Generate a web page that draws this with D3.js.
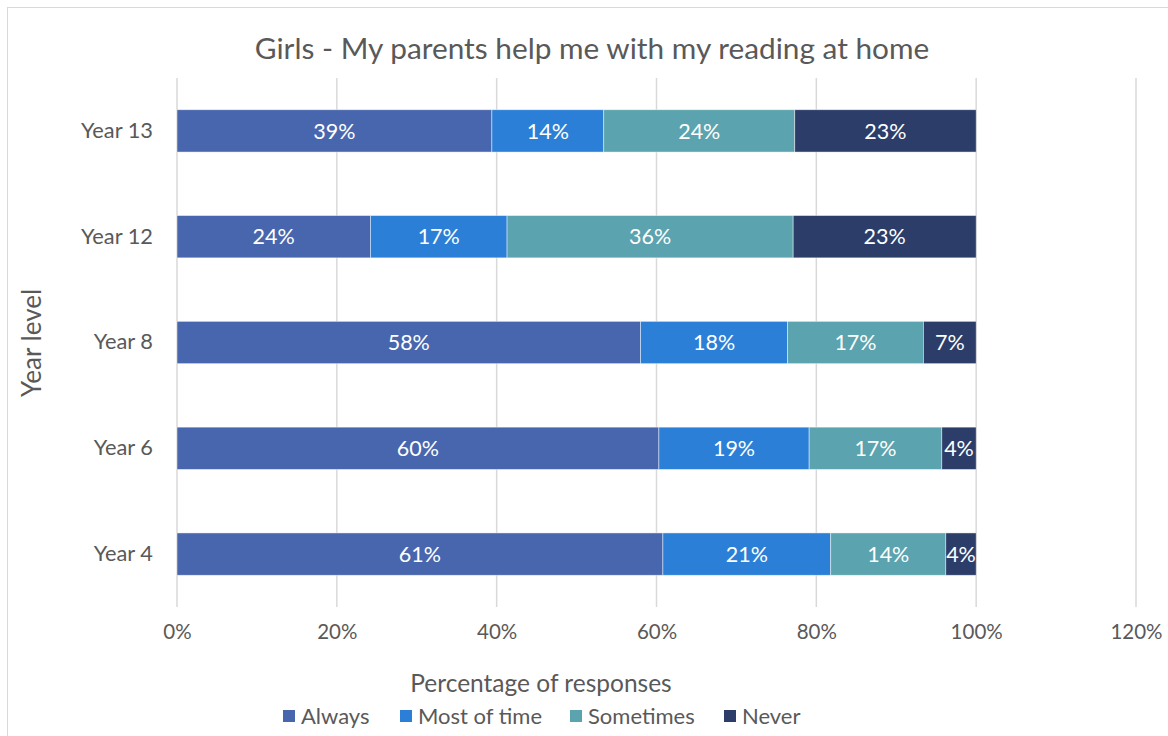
<!DOCTYPE html>
<html>
<head>
<meta charset="utf-8">
<script src="https://cdn.jsdelivr.net/npm/d3@7"></script>
<style>
  body { margin: 0; background: #fff; }
  text { font-family: Lato, "Noto Sans", sans-serif; }
</style>
</head>
<body>
<script>
// data (percent of responses)
const years = ["Year 13", "Year 12", "Year 8", "Year 6", "Year 4"];
const seriesNames = ["Always", "Most of time", "Sometimes", "Never"];
const always = [39.4, 24.2, 58.0, 60.3, 60.8];
const mostOfTime = [14.0, 17.1, 18.4, 18.8, 21.0];
const sometimes = [23.9, 35.8, 17.0, 16.6, 14.4];
const never = [22.7, 22.9, 6.6, 4.3, 3.8];
const xTicks = [0, 20, 40, 60, 80, 100, 120];

const colors = ["#4866AE", "#2B7FD6", "#5BA3AE", "#2C3D69"];

const width = 1168;
const height = 736;

const svg = d3.select("body")
    .append("svg")
    .attr("width", width)
    .attr("height", height)

// chart frame
svg.append("rect")
    .attr("x", 7.5)
    .attr("y", 7.5)
    .attr("width", width)
    .attr("height", height)
    .attr("fill", "none")
    .attr("stroke", "#d9d9d9")

const scaleX = d3.scaleLinear()
    .domain([0, 120])
    .range([177, 1136]);

const scaleY = d3.scaleBand()
    .domain(years)
    .range([78, 607])
    .paddingInner(0.6)
    .paddingOuter(0.3);

// gridlines
svg.append("g")
    .selectAll("line")
    .data(xTicks)
    .enter()
    .append("line")
    .attr("x1", d => scaleX(d))
    .attr("x2", d => scaleX(d))
    .attr("y1", 78)
    .attr("y2", 607)
    .attr("stroke", "#d9d9d9")
    .attr("stroke-width", 1.5)

// x axis labels
const xAxis = d3.axisBottom(scaleX)
    .tickValues(xTicks)
    .tickSize(0)
    .tickPadding(0)
    .tickFormat(d => d + "%");

svg.append("g")
    .attr("transform", "translate(0, 624)")
    .call(xAxis)
    .call(g => g.select(".domain").remove())
    .selectAll("text")
    .attr("dy", "0.71em")
    .attr("fill", "#595959")
    .style("font-size", "20.5px")
    .style("font-family", "Lato, sans-serif")

// y axis labels
const yAxis = d3.axisLeft(scaleY)
    .tickSize(0)
    .tickPadding(0);

svg.append("g")
    .attr("transform", "translate(153, 0)")
    .call(yAxis)
    .call(g => g.select(".domain").remove())
    .selectAll("text")
    .attr("fill", "#595959")
    .style("font-size", "21.8px")
    .style("font-family", "Lato, sans-serif")

// stack the series
const table = years.map((y, i) => ({
    year: y,
    "Always": always[i],
    "Most of time": mostOfTime[i],
    "Sometimes": sometimes[i],
    "Never": never[i]
}));

const stacked = d3.stack().keys(seriesNames)(table);

const layers = svg.append("g")
    .selectAll("g")
    .data(stacked)
    .enter()
    .append("g")
    .attr("fill", (d, i) => colors[i])

layers.selectAll("rect")
    .data(d => d)
    .enter()
    .append("rect")
    .attr("x", d => scaleX(d[0]))
    .attr("y", d => scaleY(d.data.year))
    .attr("width", d => scaleX(d[1]) - scaleX(d[0]))
    .attr("height", scaleY.bandwidth())
    .attr("stroke", "rgba(255,255,255,0.6)")
    .attr("stroke-width", 0.75)

layers.selectAll("text")
    .data(d => d)
    .enter()
    .append("text")
    .attr("x", d => (scaleX(d[0]) + scaleX(d[1])) / 2)
    .attr("y", d => scaleY(d.data.year) + scaleY.bandwidth() / 2)
    .attr("dy", "0.36em")
    .attr("text-anchor", "middle")
    .attr("fill", "#fff")
    .style("font-size", "21.5px")
    .text(d => Math.round(d[1] - d[0]) + "%")

// title
svg.append("text")
    .attr("x", 592)
    .attr("y", 59)
    .attr("text-anchor", "middle")
    .attr("fill", "#595959")
    .style("font-size", "29.8px")
    .text("Girls - My parents help me with my reading at home")

// axis titles
svg.append("text")
    .attr("x", 541)
    .attr("y", 692)
    .attr("text-anchor", "middle")
    .attr("fill", "#595959")
    .style("font-size", "24.5px")
    .text("Percentage of responses")

svg.append("text")
    .attr("transform", "translate(41, 343) rotate(-90)")
    .attr("text-anchor", "middle")
    .attr("fill", "#595959")
    .style("font-size", "26px")
    .text("Year level")

// legend
const legendX = [283, 400, 570, 724];

const legend = svg.append("g")
    .selectAll("g")
    .data(seriesNames)
    .enter()
    .append("g")
    .attr("transform", (d, i) => `translate(${legendX[i]}, 710)`)

legend.append("rect")
    .attr("width", 12)
    .attr("height", 12)
    .attr("fill", (d, i) => colors[i])

legend.append("text")
    .attr("x", 18)
    .attr("y", 6)
    .attr("dy", "0.36em")
    .attr("fill", "#595959")
    .style("font-size", "22px")
    .text(d => d)
</script>
</body>
</html>
